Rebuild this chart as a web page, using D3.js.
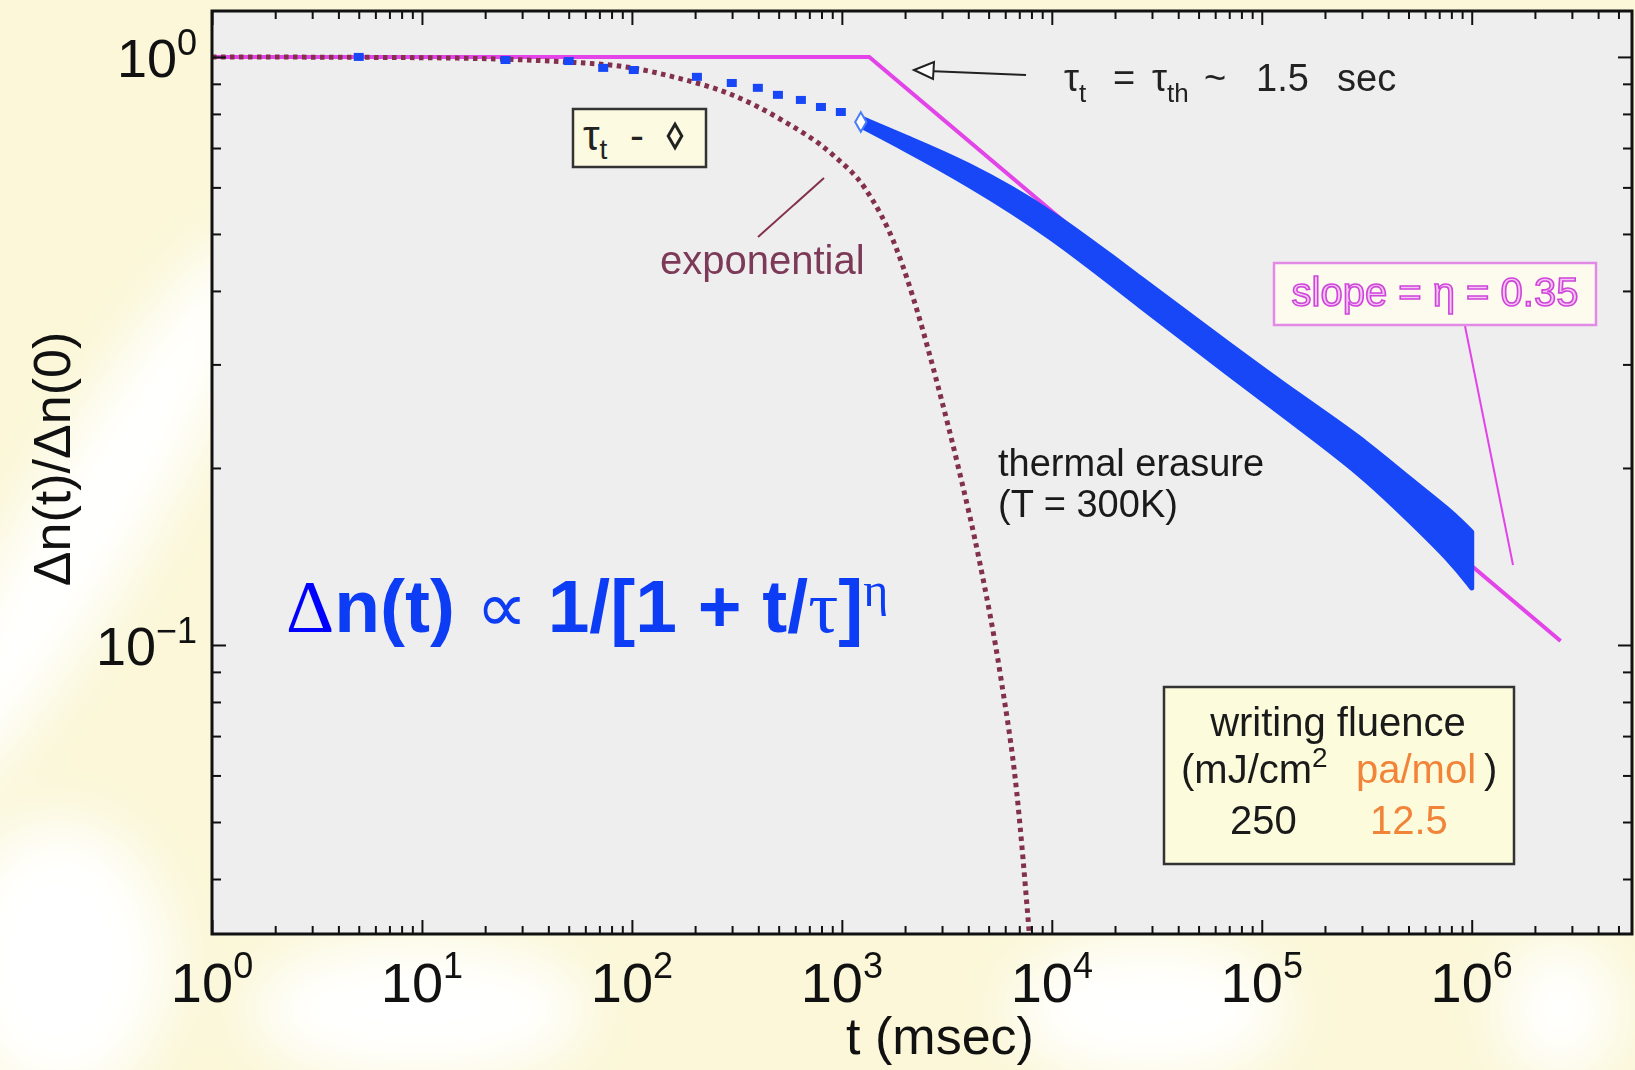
<!DOCTYPE html>
<html>
<head>
<meta charset="utf-8">
<script src="https://cdn.jsdelivr.net/npm/d3@7"></script>
<style>
  body { margin: 0; background: #fcf9df; }
  svg { display: block; }
  text { font-family: 'Liberation Sans', Arial, sans-serif; }
</style>
</head>
<body>
<div id="chart"></div>
<script>
// values (t in msec, normalised index change)
const sparseT = [5, 25, 50, 73, 102, 204, 299, 398, 496, 638, 795, 989];
const sparseV = [1.0, 0.988, 0.984, 0.958, 0.95, 0.925, 0.903, 0.886, 0.862, 0.845, 0.822, 0.806];
const tauMarkT = [1231];
const tauMarkV = [0.775];
const bandT  = [1231, 2000, 3850, 9800, 26200, 70400, 151800, 293000, 507000, 785000, 1000000];
const bandHi = [0.788, 0.731, 0.663, 0.551, 0.421, 0.324, 0.265, 0.226, 0.1915, 0.1697, 0.1557];
const bandLo = [0.763, 0.697, 0.613, 0.498, 0.377, 0.288, 0.234, 0.196, 0.1625, 0.1395, 0.125];
const expT = [1, 10, 50, 100, 165, 293, 518, 916, 1288, 1828, 2300, 2866, 3606, 4540, 5716, 6813, 7800];
const expV = [1, 0.997, 0.98, 0.958, 0.921, 0.865, 0.781, 0.679, 0.598, 0.470, 0.367, 0.276, 0.199, 0.138, 0.088, 0.056, 0.0325];
const fitT = [1, 1350, 2650000];
const fitV = [1, 1, 0.1016];
const xMajor = [1, 10, 100, 1000, 1e4, 1e5, 1e6];
const xPow = ['0', '1', '2', '3', '4', '5', '6'];
const yMajor = [1, 0.1];
const yPow = ['0', '\u22121'];

const width = 1635;
const height = 1070;
const margin = { top: 11, right: 3, bottom: 136, left: 212 };
const blue = '#1747f6';
const magenta = '#e244e8';
const maroon = '#82304b';

const svg = d3.select('#chart')
  .append('svg')
  .attr('width', width)
  .attr('height', height);

// page background with soft white swirls
const defs = svg.append('defs');
defs.append('filter').attr('id', 'blur')
  .append('feGaussianBlur').attr('stdDeviation', 30);
svg.append('rect').attr('width', width).attr('height', height).attr('fill', '#fbf7d8');
const swirl = svg.append('g').attr('filter', 'url(#blur)').attr('fill', '#ffffff');
swirl.append('ellipse').attr('cx', 90).attr('cy', 520).attr('rx', 60).attr('ry', 330)
  .attr('transform', 'rotate(30,90,520)');
swirl.append('ellipse').attr('cx', 60).attr('cy', 960).attr('rx', 110).attr('ry', 140);
swirl.append('ellipse').attr('cx', 420).attr('cy', 1010).attr('rx', 170).attr('ry', 70);
swirl.append('ellipse').attr('cx', 1150).attr('cy', 1010).attr('rx', 140).attr('ry', 70);
swirl.append('ellipse').attr('cx', 1560).attr('cy', 1010).attr('rx', 60).attr('ry', 70);

const x = d3.scaleLog()
  .domain([1, 5.8e6])
  .range([margin.left, width - margin.right]);

const y = d3.scaleLog()
  .domain([0.03225, 1.197])
  .range([height - margin.bottom, margin.top]);

const x0 = margin.left, x1 = width - margin.right;
const y0 = height - margin.bottom, y1 = margin.top;

svg.append('rect')
  .attr('x', x0).attr('y', y1)
  .attr('width', x1 - x0).attr('height', y0 - y1)
  .attr('fill', '#eeeeee');

defs.append('clipPath').attr('id', 'plot')
  .append('rect').attr('x', x0).attr('y', y1).attr('width', x1 - x0).attr('height', y0 - y1);

const plot = svg.append('g').attr('clip-path', 'url(#plot)');

// fitted power law (magenta)
plot.append('path')
  .datum(d3.zip(fitT, fitV))
  .attr('fill', 'none')
  .attr('stroke', magenta)
  .attr('stroke-width', 4)
  .attr('d', d3.line().x(d => x(d[0])).y(d => y(d[1])));

// exponential (dotted)
plot.append('path')
  .datum(d3.zip(expT, expV))
  .attr('fill', 'none')
  .attr('stroke', maroon)
  .attr('stroke-width', 5)
  .attr('stroke-dasharray', '4.5,4.5')
  .attr('d', d3.line().curve(d3.curveMonotoneX).x(d => x(d[0])).y(d => y(d[1])));

// measured decay: sparse early points then a dense band
plot.append('g')
  .attr('fill', blue)
  .selectAll('rect')
  .data(d3.zip(sparseT, sparseV))
  .join('rect')
    .attr('x', d => x(d[0]) - 5)
    .attr('y', d => y(d[1]) - 4)
    .attr('width', 10)
    .attr('height', 8);

plot.append('path')
  .datum(d3.zip(bandT, bandLo, bandHi))
  .attr('fill', blue)
  .attr('stroke', blue)
  .attr('stroke-width', 5)
  .attr('stroke-linejoin', 'round')
  .attr('d', d3.area().curve(d3.curveBasis)
    .x(d => x(d[0])).y0(d => y(d[1])).y1(d => y(d[2])));

plot.append('g')
  .selectAll('path')
  .data(d3.zip(tauMarkT, tauMarkV))
  .join('path')
    .attr('transform', d => `translate(${x(d[0])},${y(d[1])})`)
    .attr('d', d3.symbol(d3.symbolDiamond, 110))
    .attr('fill', '#ffffff')
    .attr('stroke', '#4a7cf8')
    .attr('stroke-width', 2);

// ticks on all four sides, pointing in
const xMinor = x.ticks().filter(v => !xMajor.includes(v));
const yMinor = y.ticks().filter(v => !yMajor.some(m => Math.abs(m - v) < 1e-9));

function ticks(axisFn, scale, values, size, tr) {
  const g = svg.append('g')
    .attr('transform', tr)
    .call(axisFn(scale).tickValues(values).tickSize(-size).tickFormat(''));
  g.select('.domain').remove();
  g.selectAll('.tick line').attr('stroke', '#111').attr('stroke-width', 2);
}
ticks(d3.axisBottom, x, xMajor, 14, `translate(0,${y0})`);
ticks(d3.axisBottom, x, xMinor, 8, `translate(0,${y0})`);
ticks(d3.axisTop, x, xMajor, 14, `translate(0,${y1})`);
ticks(d3.axisTop, x, xMinor, 8, `translate(0,${y1})`);
ticks(d3.axisLeft, y, yMajor, 14, `translate(${x0},0)`);
ticks(d3.axisLeft, y, yMinor, 9, `translate(${x0},0)`);
ticks(d3.axisRight, y, yMajor, 14, `translate(${x1},0)`);
ticks(d3.axisRight, y, yMinor, 9, `translate(${x1},0)`);

svg.append('rect')
  .attr('x', x0).attr('y', y1)
  .attr('width', x1 - x0).attr('height', y0 - y1)
  .attr('fill', 'none')
  .attr('stroke', '#111')
  .attr('stroke-width', 3);

// tick labels 10^n
const tickFont = "'Liberation Sans Narrow', 'Liberation Sans', Arial, sans-serif";
const xl = svg.append('g').selectAll('text')
  .data(d3.zip(xMajor, xPow))
  .join('text')
    .attr('x', d => x(d[0]))
    .attr('y', 1002)
    .attr('text-anchor', 'middle')
    .style('font-family', tickFont)
    .style('font-size', '56px')
    .attr('fill', '#111');
xl.append('tspan').text('10');
xl.append('tspan').attr('dy', -24).style('font-size', '36px').text(d => d[1]);

const yl = svg.append('g').selectAll('text')
  .data(d3.zip(yMajor, yPow))
  .join('text')
    .attr('x', 197)
    .attr('y', d => y(d[0]) + 20)
    .attr('text-anchor', 'end')
    .style('font-family', tickFont)
    .style('font-size', '54px')
    .attr('fill', '#111');
yl.append('tspan').text('10');
yl.append('tspan').attr('dy', -22).style('font-size', '36px').text(d => d[1]);

svg.append('text')
  .attr('x', 940).attr('y', 1054)
  .attr('text-anchor', 'middle')
  .style('font-family', tickFont)
  .style('font-size', '52px')
  .attr('fill', '#111')
  .text('t (msec)');

svg.append('text')
  .attr('transform', 'translate(70,459) rotate(-90)')
  .attr('text-anchor', 'middle')
  .style('font-size', '52px')
  .attr('fill', '#111')
  .text('\u0394n(t)/\u0394n(0)');

// annotations
const ann = svg.append('g');

// tau_t legend box
ann.append('rect').attr('x', 573).attr('y', 109).attr('width', 133).attr('height', 58)
  .attr('fill', '#fcfbe2').attr('stroke', '#333').attr('stroke-width', 2.5);
const tb = ann.append('text').attr('x', 583).attr('y', 150).style('font-size', '42px').attr('fill', '#222');
tb.append('tspan').text('\u03c4');
tb.append('tspan').attr('dy', 9).style('font-size', '28px').text('t');
tb.append('tspan').attr('x', 630).attr('dy', -9).text('-');
ann.append('path').attr('transform', 'translate(675,136)')
  .attr('d', d3.symbol(d3.symbolDiamond, 160))
  .attr('fill', 'none').attr('stroke', '#222').attr('stroke-width', 3);

// exponential label
ann.append('line').attr('x1', 758).attr('y1', 237).attr('x2', 824).attr('y2', 178)
  .attr('stroke', maroon).attr('stroke-width', 2);
ann.append('text').attr('x', 660).attr('y', 274).style('font-size', '40px')
  .attr('fill', '#7d3a58').text('exponential');

// arrow to the knee
ann.append('line').attr('x1', 928).attr('y1', 71).attr('x2', 1026).attr('y2', 75)
  .attr('stroke', '#222').attr('stroke-width', 2);
ann.append('path').attr('d', 'M914,70 L934,62 L933,79 Z')
  .attr('fill', '#fff').attr('stroke', '#222').attr('stroke-width', 2);
const tt = ann.append('text').attr('y', 91).style('font-size', '38px').attr('fill', '#222');
tt.append('tspan').attr('x', 1064).text('\u03c4');
tt.append('tspan').attr('dy', 11).style('font-size', '26px').text('t');
tt.append('tspan').attr('x', 1113).attr('dy', -11).text('=');
tt.append('tspan').attr('x', 1152).text('\u03c4');
tt.append('tspan').attr('dy', 11).style('font-size', '26px').text('th');
tt.append('tspan').attr('x', 1204).attr('dy', -11).text('~');
tt.append('tspan').attr('x', 1256).text('1.5');
tt.append('tspan').attr('x', 1337).text('sec');

// slope box
ann.append('line').attr('x1', 1465).attr('y1', 326).attr('x2', 1513).attr('y2', 565)
  .attr('stroke', magenta).attr('stroke-width', 2);
ann.append('rect').attr('x', 1274).attr('y', 263).attr('width', 322).attr('height', 62)
  .attr('fill', '#fdfbee').attr('stroke', '#e28ae6').attr('stroke-width', 2.5);
ann.append('text').attr('x', 1435).attr('y', 306).attr('text-anchor', 'middle')
  .style('font-size', '40px').attr('fill', '#f3c6f3').attr('stroke', '#cf45db').attr('stroke-width', 1.6)
  .text('slope = \u03b7 = 0.35');

// thermal erasure
ann.append('text').attr('x', 998).attr('y', 476).style('font-size', '38px').attr('fill', '#1a1a1a')
  .text('thermal erasure');
ann.append('text').attr('x', 998).attr('y', 517).style('font-size', '38px').attr('fill', '#1a1a1a')
  .text('(T = 300K)');

// formula
const f = ann.append('text').attr('x', 286).attr('y', 632).style('font-size', '75px').attr('fill', '#0d3cf5');
f.append('tspan').style('font-family', "'Liberation Serif', serif").style('fill', '#0000ff').text('\u0394');
f.append('tspan').style('font-weight', 'bold').text('n(t) ');
f.append('tspan').style('font-family', "'Liberation Serif', serif").style('font-size', '72px').text('\u221d');
f.append('tspan').style('font-weight', 'bold').text(' 1/[1 + t/');
f.append('tspan').style('font-family', "'Liberation Serif', serif").text('\u03c4');
f.append('tspan').style('font-weight', 'bold').text(']');
f.append('tspan').style('font-family', "'Liberation Serif', serif").style('font-size', '48px').attr('dy', -26).text('\u03b7');

// writing fluence box
ann.append('rect').attr('x', 1164).attr('y', 687).attr('width', 350).attr('height', 177)
  .attr('fill', '#fcfbdc').attr('stroke', '#333').attr('stroke-width', 2.5);
ann.append('text').attr('x', 1338).attr('y', 736).attr('text-anchor', 'middle')
  .style('font-size', '40px').attr('fill', '#1a1a1a').text('writing fluence');
const wl = ann.append('text').attr('x', 1181).attr('y', 783).style('font-size', '40px').attr('fill', '#1a1a1a');
wl.append('tspan').text('(mJ/cm');
wl.append('tspan').attr('dy', -16).style('font-size', '28px').text('2');
wl.append('tspan').attr('x', 1356).attr('dy', 16).attr('fill', '#f2843a').text('pa/mol');
wl.append('tspan').attr('x', 1484).text(')');
ann.append('text').attr('x', 1230).attr('y', 834).style('font-size', '40px').attr('fill', '#1a1a1a').text('250');
ann.append('text').attr('x', 1370).attr('y', 834).style('font-size', '40px').attr('fill', '#f2843a').text('12.5');
</script>
</body>
</html>
